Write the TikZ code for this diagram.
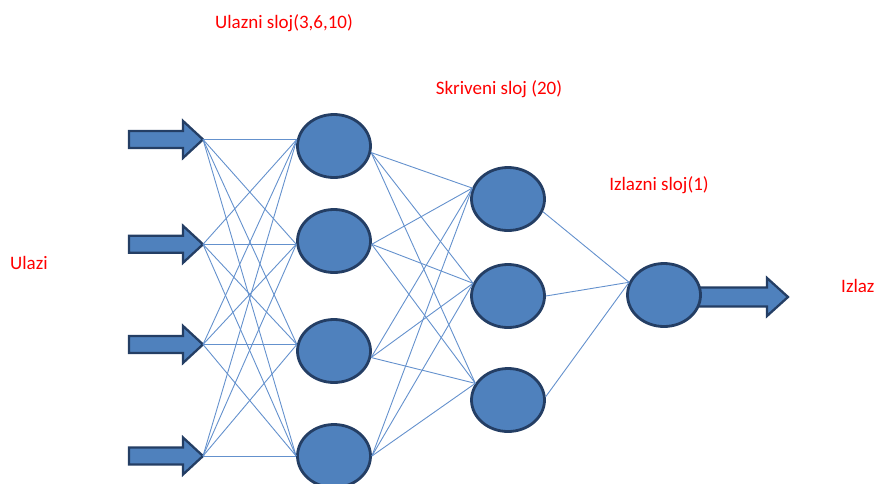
\documentclass[tikz,border=0pt]{standalone}
\usepackage{fontspec}
\setmainfont{Carlito}
\usetikzlibrary{shapes.geometric}
\definecolor{nodeblue}{RGB}{79,129,189}
\definecolor{nodeedge}{RGB}{36,62,100}
\definecolor{linkblue}{RGB}{100,145,205}

\begin{document}
\begin{tikzpicture}[x=1pt,y=-1pt,
	neuron/.style={ellipse,draw=nodeedge,fill=nodeblue,line width=2.8pt,
		minimum width=73pt,minimum height=63pt,inner sep=0pt},
	link/.style={draw=linkblue,line width=0.9pt},
	bigarrow/.style={draw=nodeedge,fill=nodeblue,line width=2.3pt,line join=miter},
	layertext/.style={text=red,font=\fontsize{19}{21}\selectfont,inner sep=0pt,anchor=base}]
	\useasboundingbox (0,0) rectangle (880,483);
	% ulazni sloj
	\foreach \i/\y/\a/\b in {1/146/170/350,2/241/185/355,3/351/170/350,4/456/180/0}{
		\node[neuron] (u\i) at (334,\y) {};
		\coordinate (u\i l) at (u\i.\a);
		\coordinate (u\i r) at (u\i.\b);
	}
	% skriveni sloj
	\foreach \i/\y/\a/\b in {1/199/163/340,2/296/160/0,3/400/153/5}{
		\node[neuron] (s\i) at (508,\y) {};
		\coordinate (s\i l) at (s\i.\a);
		\coordinate (s\i r) at (s\i.\b);
	}
	% ulazi
	\foreach \i in {1,...,4}{
		\coordinate (x\i) at (u\i l -| 203,0);
		\draw[bigarrow] (x\i) -- ++(-20,-18.5) -- ++(0,10) -- ++(-54,0) -- ++(0,17)
			-- ++(54,0) -- ++(0,10) -- cycle;
	}
	% izlaz
	\coordinate (y) at (788,297);
	\draw[bigarrow] (y) -- ++(-21,-19) -- ++(0,9.5) -- ++(-76,0) -- ++(0,19)
		-- ++(76,0) -- ++(0,9.5) -- cycle;
	\node[neuron] (o) at (664,295) {};
	% veze
	\foreach \i in {1,...,4}
		\foreach \j in {1,...,4}
			\draw[link] (x\i) -- (u\j l);
	\foreach \i in {1,...,4}
		\foreach \j in {1,...,3}
			\draw[link] (u\i r) -- (s\j l);
	\foreach \j in {1,...,3}
		\draw[link] (s\j r) -- (o.160);
	% tekst
	\node[layertext] (t1) at (284,28) {Ulazni sloj(3,6,10)};
	\node[layertext] (t2) at (499,94) {Skriveni sloj (20)};
	\node[layertext] (t3) at (659,190) {Izlazni sloj(1)};
	\node[layertext,anchor=base west] (t4) at (10,269) {Ulazi};
	\node[layertext,anchor=base west] (t5) at (841,292) {Izlaz};
\end{tikzpicture}
\end{document}
